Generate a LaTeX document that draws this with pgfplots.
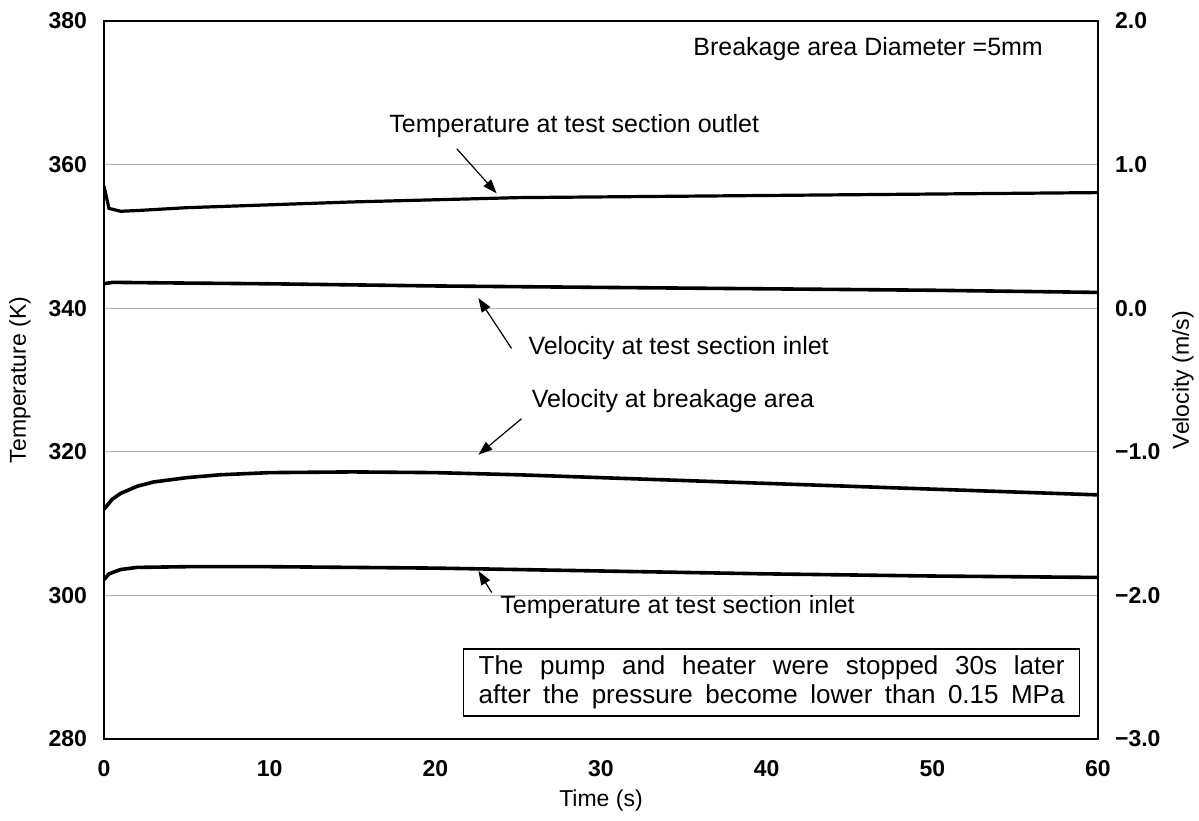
\documentclass[border=0pt]{standalone}
\usepackage{fontspec}
\setmainfont{Liberation Sans}
\usepackage{pgfplots}
\pgfplotsset{compat=1.18}
\usetikzlibrary{arrows.meta}

% temperatures (K)
\pgfplotstableread{
t T
0 357.0
0.3 353.9
1 353.5
2 353.6
5 354.0
10 354.4
15 354.8
20 355.1
25 355.4
30 355.5
40 355.7
50 355.9
60 356.1
}\Tout
\pgfplotstableread{
t T
0 302.2
0.3 303.0
1 303.6
2 303.9
5 304.0
10 304.0
20 303.8
30 303.4
40 303.0
50 302.7
60 302.5
}\Tin
% velocities (m/s)
\pgfplotstableread{
t v
0 0.17
0.5 0.18
5 0.175
10 0.17
20 0.155
30 0.145
40 0.135
50 0.125
60 0.11
}\Vin
\pgfplotstableread{
t v
0 -1.40
0.5 -1.33
1 -1.29
2 -1.24
3 -1.21
5 -1.18
7 -1.16
10 -1.145
15 -1.14
20 -1.145
25 -1.16
30 -1.18
35 -1.20
40 -1.22
45 -1.24
50 -1.26
55 -1.28
60 -1.30
}\Vbrk

\begin{document}
\begin{tikzpicture}
\pgfplotsset{
  common/.style={
    at={(0,0)}, anchor=south west,
    width=497pt, height=359pt, scale only axis,
    xmin=0, xmax=60,
    major tick length=0pt,
    axis line style={line width=1.4pt},
    tick label style={font=\bfseries\fontsize{11.5}{13}\selectfont},
    label style={font=\fontsize{11.5}{13}\selectfont},
    /pgf/number format/assume math mode=true,
  },
}
\begin{axis}[common,
  ymin=280, ymax=380,
  xtick={0,10,...,60}, ytick={280,300,...,380},
  xtick pos=bottom, ytick pos=left,
  ymajorgrids, grid style={gray!60, line width=0.5pt},
  yticklabel style={xshift=-5pt},
  xticklabel style={yshift=-7pt},
  xlabel={Time (s)}, ylabel={Temperature (K)},
  xlabel style={at={(axis description cs:0.5,-0.086)}, anchor=center},
  ylabel style={at={(axis description cs:-0.0845,0.5)}, anchor=center},
]
\addplot[black, line width=1.6pt] table[x=t, y=T] {\Tout};
\addplot[black, line width=1.8pt] table[x=t, y=T] {\Tin};

\node[anchor=east, font=\fontsize{12.5}{14}\selectfont] at (axis cs:57.1,376.1) {Breakage area Diameter =5mm};
\node[anchor=west, font=\fontsize{12.5}{14}\selectfont] at (axis cs:16.8,365.4) {Temperature at test section outlet};
\draw[-{Triangle[length=7pt,width=5pt]}, line width=0.6pt] (axis cs:21.3,362.2) -- (axis cs:23.7,356.0);
\node[anchor=west, font=\fontsize{12.5}{14}\selectfont] at (axis cs:25.2,334.5) {Velocity at test section inlet};
\draw[-{Triangle[length=7pt,width=5pt]}, line width=0.6pt] (axis cs:24.6,334.4) -- (axis cs:22.6,341.4);
\node[anchor=west, font=\fontsize{12.5}{14}\selectfont] at (axis cs:25.4,327.1) {Velocity at breakage area};
\draw[-{Triangle[length=7pt,width=5pt]}, line width=0.6pt] (axis cs:25.2,324.6) -- (axis cs:22.6,319.6);
\node[anchor=west, font=\fontsize{12.5}{14}\selectfont] at (axis cs:23.5,298.4) {Temperature at test section inlet};
\draw[-{Triangle[length=7pt,width=5pt]}, line width=0.6pt] (axis cs:23.4,300.4) -- (axis cs:22.6,303.4);
\node[draw, line width=0.7pt, fill=white, minimum width=308pt, minimum height=33.5pt,
  align=center, inner sep=2pt, font=\fontsize{13}{14.5}\selectfont]
  at (axis cs:40.3,287.85)
  {\makebox[293pt][s]{The pump and heater were stopped 30s later}\\
   \makebox[293pt][s]{after the pressure become lower than 0.15 MPa}};
\end{axis}

\begin{axis}[common,
  ymin=-3, ymax=2,
  axis x line=none, axis y line*=right,
  ytick={-3,-2,-1,0,1,2},
  yticklabels={−3.0,−2.0,−1.0,0.0,1.0,2.0},
  yticklabel style={xshift=5pt},
  ylabel={Velocity (m/s)},
  ylabel style={at={(axis description cs:1.0855,0.5)}, anchor=center, rotate=0},
]
\addplot[black, line width=1.8pt] table[x=t, y=v] {\Vin};
\addplot[black, line width=1.8pt] table[x=t, y=v] {\Vbrk};
\end{axis}
\pgfresetboundingbox
\path (-52pt,-40.5pt) rectangle (547.5pt,369.5pt);
\end{tikzpicture}
\end{document}
